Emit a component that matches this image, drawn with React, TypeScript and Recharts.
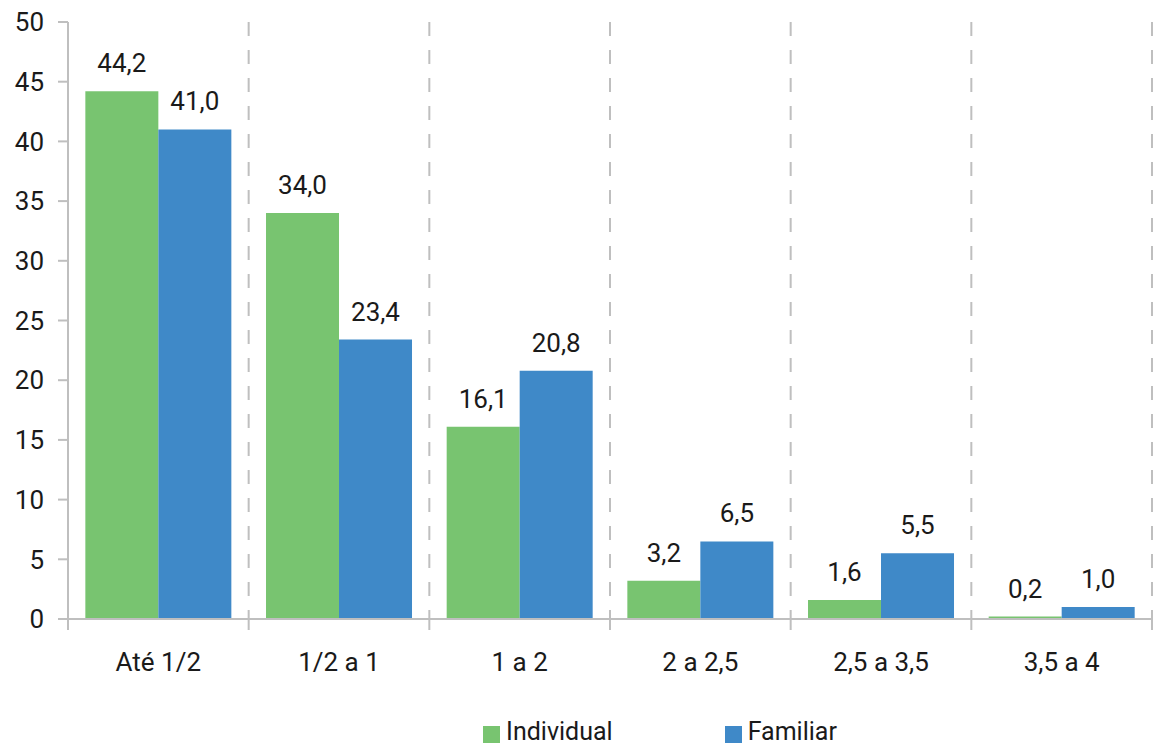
import { BarChart, Bar, XAxis, YAxis, CartesianGrid, Legend, LabelList } from 'recharts';

const CATEGORIES = ['Até 1/2', '1/2 a 1', '1 a 2', '2 a 2,5', '2,5 a 3,5', '3,5 a 4'];
const INDIVIDUAL = [44.2, 34.0, 16.1, 3.2, 1.6, 0.2];
const FAMILIAR = [41.0, 23.4, 20.8, 6.5, 5.5, 1.0];
const Y_TICKS = [0, 5, 10, 15, 20, 25, 30, 35, 40, 45, 50];

const GREEN = '#78c470';
const BLUE = '#3f89c8';
const AXIS = '#bfbfbf';
const TEXT = '#1a1a1a';
const FONT = 'Roboto, "Noto Sans", sans-serif';

const WIDTH = 1153;
const HEIGHT = 744;
const Y_AXIS_WIDTH = 68;
const RIGHT = 1;
const BAND = (WIDTH - Y_AXIS_WIDTH - RIGHT) / CATEGORIES.length;

const data = CATEGORIES.map((name, i) => ({
  name,
  individual: INDIVIDUAL[i],
  familiar: FAMILIAR[i],
}));

const fmt = (v: number) => v.toFixed(1).replace('.', ',');

function CategoryTick(props: any) {
  const { x, y, payload, index } = props;
  const half = BAND / 2;
  return (
    <g>
      <line x1={x - half} x2={x - half} y1={y} y2={y + 11} stroke={AXIS} strokeWidth={2} />
      {index === CATEGORIES.length - 1 && (
        <line x1={x + half} x2={x + half} y1={y} y2={y + 11} stroke={AXIS} strokeWidth={2} />
      )}
      <text x={x} y={y + 52} textAnchor="middle" fill={TEXT} fontSize={26} fontFamily={FONT}>
        {payload.value}
      </text>
    </g>
  );
}

function LegendContent() {
  const items = [
    { label: 'Individual', color: GREEN },
    { label: 'Familiar', color: BLUE },
  ];
  return (
    <div
      style={{
        display: 'flex',
        justifyContent: 'center',
        alignItems: 'flex-end',
        height: 44,
        paddingLeft: 168,
        gap: 112,
        fontFamily: FONT,
        fontSize: 25,
        color: TEXT,
      }}
    >
      {items.map((it) => (
        <div key={it.label} style={{ display: 'flex', alignItems: 'center', gap: 6, lineHeight: '24px' }}>
          <span style={{ width: 17, height: 17, marginTop: 4, background: it.color, display: 'inline-block' }} />
          <span>{it.label}</span>
        </div>
      ))}
    </div>
  );
}

export default function App() {
  return (
    <div style={{ position: 'absolute', left: 0, top: 0, background: '#fff' }}>
      <BarChart
        width={WIDTH}
        height={HEIGHT}
        data={data}
        margin={{ top: 22, right: RIGHT, left: 0, bottom: 0 }}
        barCategoryGap="9.6%"
        barGap={0}
      >
        <CartesianGrid
          horizontal={false}
          stroke={AXIS}
          strokeWidth={2}
          strokeDasharray="14 14"
          verticalCoordinatesGenerator={({ offset }: any) =>
            CATEGORIES.map((_, i) => offset.left + ((i + 1) * offset.width) / CATEGORIES.length)
          }
        />
        <XAxis
          dataKey="name"
          height={81}
          interval={0}
          tickLine={false}
          tickSize={0}
          tickMargin={0}
          axisLine={{ stroke: AXIS, strokeWidth: 2 }}
          tick={<CategoryTick />}
        />
        <YAxis
          width={Y_AXIS_WIDTH}
          domain={[0, 50]}
          ticks={Y_TICKS}
          interval={0}
          tickSize={10}
          tickMargin={14}
          axisLine={{ stroke: AXIS, strokeWidth: 2 }}
          tickLine={{ stroke: AXIS, strokeWidth: 2 }}
          tick={{ fill: TEXT, fontSize: 26, fontFamily: FONT }}
        />
        <Legend verticalAlign="bottom" height={44} content={<LegendContent />} />
        <Bar dataKey="individual" name="Individual" fill={GREEN} isAnimationActive={false}>
          <LabelList
            dataKey="individual"
            position="top"
            offset={19}
            formatter={(v: any) => fmt(Number(v))}
            fill={TEXT}
            fontSize={26}
            fontFamily={FONT}
          />
        </Bar>
        <Bar dataKey="familiar" name="Familiar" fill={BLUE} isAnimationActive={false}>
          <LabelList
            dataKey="familiar"
            position="top"
            offset={19}
            formatter={(v: any) => fmt(Number(v))}
            fill={TEXT}
            fontSize={26}
            fontFamily={FONT}
          />
        </Bar>
      </BarChart>
    </div>
  );
}
